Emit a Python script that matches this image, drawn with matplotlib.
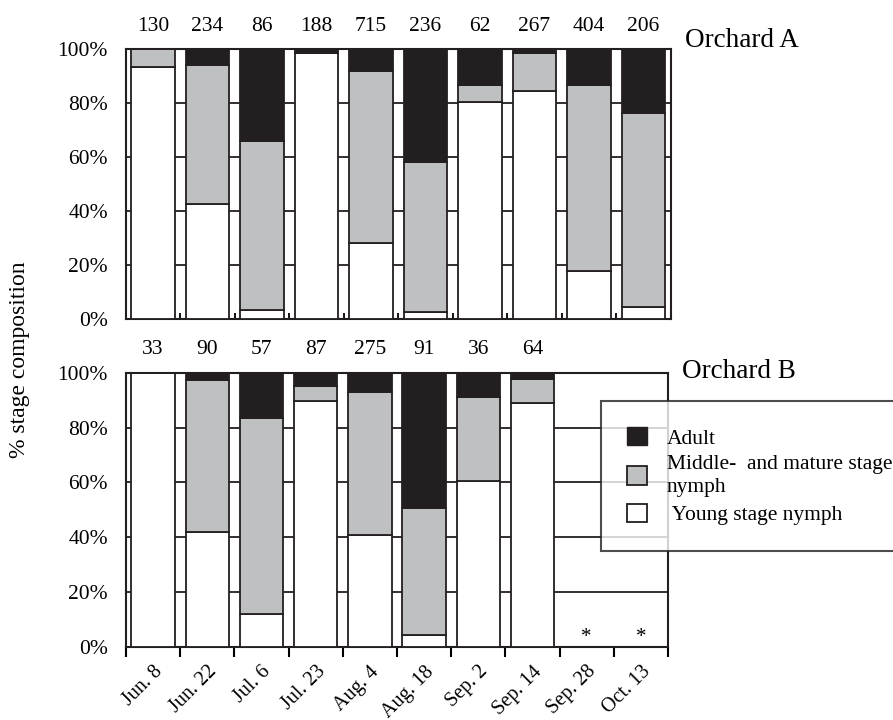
import numpy as np
import matplotlib
matplotlib.use('Agg')
import matplotlib.pyplot as plt
from matplotlib.patches import Patch

plt.rcParams['font.family'] = ['Liberation Serif', 'DejaVu Serif']

####################################################################################################

dates = ['Jun. 8', 'Jun. 22', 'Jul. 6', 'Jul. 23', 'Aug. 4', 'Aug. 18',
         'Sep. 2', 'Sep. 14', 'Sep. 28', 'Oct. 13']

# Orchard A (% of individuals per stage)
counts_a = [130, 234, 86, 188, 715, 236, 62, 267, 404, 206]
young_a = [93.4, 42.5, 3.3, 98.5, 28.0, 2.7, 80.3, 84.4, 17.8, 4.3]
middle_a = [6.6, 51.5, 62.7, 0.0, 64.0, 55.6, 6.4, 14.1, 68.9, 71.9]
adult_a = [0.0, 6.0, 34.0, 1.5, 8.0, 41.7, 13.3, 1.5, 13.3, 23.8]

# Orchard B (no sampling on the last two dates)
counts_b = [33, 90, 57, 87, 275, 91, 36, 64]
young_b = [100.0, 41.9, 12.0, 89.5, 40.9, 4.3, 60.4, 88.8]
middle_b = [0.0, 55.4, 71.4, 5.5, 52.0, 46.4, 30.8, 9.0]
adult_b = [0.0, 2.7, 16.6, 5.0, 7.1, 49.3, 8.8, 2.2]
missing_b = ['Sep. 28', 'Oct. 13']

####################################################################################################

figure = plt.figure(figsize=(8.93, 7.2), dpi=100)

ax_a = figure.add_axes([0.141, 0.557, 0.610, 0.375])
ax_b = figure.add_axes([0.141, 0.1014, 0.607, 0.381])

colors = {'adult': '#231f20', 'middle': '#bfc0c2', 'young': 'white'}
width = 0.8
fs = 15.5


def draw_panel(axe, young, middle, adult, counts, title, title_y):
    x = np.arange(len(young))
    young = np.array(young)
    middle = np.array(middle)
    adult = np.array(adult)
    axe.bar(x, young, width, color=colors['young'], edgecolor='#231f20', lw=1.3, zorder=3)
    axe.bar(x, middle, width, bottom=young, color=colors['middle'], edgecolor='#231f20', lw=1.3, zorder=3)
    axe.bar(x, adult, width, bottom=young + middle, color=colors['adult'], edgecolor='#231f20', lw=1.3, zorder=3)
    for i, n in enumerate(counts):
        axe.text(i, 108.5, str(n), ha='center', va='center', fontsize=fs, clip_on=False)
    axe.text(1.026, title_y, title, transform=axe.transAxes, ha='left', va='center', fontsize=19.5)

    axe.set_xlim(-0.5, len(dates) - 0.5)
    axe.set_ylim(0, 100)
    axe.set_yticks(np.arange(0, 101, 20))
    axe.set_yticklabels(['%d%%' % v for v in range(0, 101, 20)], fontsize=fs)
    axe.tick_params(axis='y', length=0, pad=13)
    axe.yaxis.grid(True, color='#231f20', lw=1.3)
    axe.set_axisbelow(True)
    for spine in axe.spines.values():
        spine.set_linewidth(1.5)
        spine.set_color('#231f20')
    axe.set_xticks(np.arange(-0.5, len(dates)), minor=False)
    axe.set_xticklabels([])


draw_panel(ax_a, young_a, middle_a, adult_a, counts_a, 'Orchard A', 1.03)
draw_panel(ax_b, young_b, middle_b, adult_b, counts_b, 'Orchard B', 1.006)

ax_a.tick_params(axis='x', direction='in', length=4, width=1.3)

ax_b.tick_params(axis='x', direction='out', length=7, width=1.5)
ax_b.set_xticks(np.arange(len(dates)), minor=True)
ax_b.set_xticklabels(dates, minor=True, rotation=45, ha='right', va='top',
                     rotation_mode='anchor', fontsize=14.5)
ax_b.tick_params(axis='x', which='minor', length=0, pad=11)

for d in missing_b:
    ax_b.text(dates.index(d), 3.5, '*', ha='center', va='center', fontsize=15)

figure.text(0.022, 0.50, '% stage composition', rotation=90, ha='center', va='center', fontsize=17)

handles = [Patch(facecolor=colors['adult'], edgecolor='#231f20'),
           Patch(facecolor=colors['middle'], edgecolor='#231f20', lw=1.3),
           Patch(facecolor=colors['young'], edgecolor='#231f20', lw=1.3)]
labels = ['Adult', 'Middle-  and mature stage\nnymph', ' Young stage nymph']
legend = figure.legend(handles, labels, loc='upper left', bbox_to_anchor=(601 / 893, 1 - 401 / 720),
                       fontsize=15.5, frameon=True, fancybox=False, handlelength=0.95, handleheight=0.95,
                       handletextpad=0.9, borderpad=1.2, labelspacing=0.3, borderaxespad=0)
for text in legend.get_texts():
    text.set_linespacing(1.3)
legend.get_frame().set_edgecolor('#231f20')
legend.get_frame().set_linewidth(1.5)

####################################################################################################

figure.savefig('out.png', dpi=100)
